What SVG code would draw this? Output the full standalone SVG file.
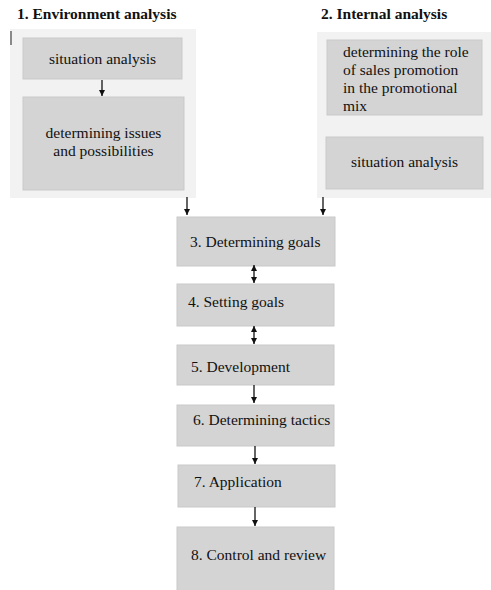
<svg xmlns="http://www.w3.org/2000/svg" width="491" height="590" viewBox="0 0 491 590">
<style>
.panel{fill:#f2f2f2;}
.box{fill:#d4d4d4;stroke:#c9c9c9;stroke-width:1;}
.t{font-family:"Liberation Serif","Times New Roman",serif;font-size:15.5px;fill:#111;}
.h{font-family:"Liberation Serif","Times New Roman",serif;font-size:15.5px;font-weight:bold;fill:#111;}
.c{stroke:#111;stroke-width:1.3;fill:none;}
</style>
<defs>
<marker id="ah" viewBox="0 0 10 10" refX="10" refY="5" markerWidth="6" markerHeight="6" markerUnits="userSpaceOnUse" orient="auto">
<path d="M0,0 L10,5 L0,10 z" fill="#111"/>
</marker>
<marker id="as" viewBox="0 0 10 10" refX="0" refY="5" markerWidth="6" markerHeight="6" markerUnits="userSpaceOnUse" orient="auto">
<path d="M10,0 L0,5 L10,10 z" fill="#111"/>
</marker>
</defs>
<rect width="491" height="590" fill="#ffffff"/>
<g id="env">
<text class="h" x="17" y="19">1. Environment analysis</text>
<rect class="panel" x="10" y="29" width="186" height="169"/>
<line x1="11" y1="31" x2="11" y2="45" stroke="#666" stroke-width="1.5"/>
</g>
<g id="env-situation">
<rect class="box" x="23" y="38" width="159" height="41"/>
<text class="t" x="102.5" y="64" text-anchor="middle">situation analysis</text>
</g>
<g id="env-issues">
<rect class="box" x="23" y="97" width="161" height="93"/>
<text class="t" x="103.5" y="138" text-anchor="middle">determining issues</text>
<text class="t" x="103.5" y="156" text-anchor="middle">and possibilities</text>
</g>
<g id="int">
<text class="h" x="321" y="19">2. Internal analysis</text>
<rect class="panel" x="317" y="32" width="174" height="166"/>
</g>
<g id="int-role">
<rect class="box" x="327" y="40" width="155" height="75"/>
<text class="t" x="343" y="57">determining the role</text>
<text class="t" x="343" y="75">of sales promotion</text>
<text class="t" x="343" y="93">in the promotional</text>
<text class="t" x="343" y="111">mix</text>
</g>
<g id="int-situation">
<rect class="box" x="326" y="137" width="157" height="52"/>
<text class="t" x="404.5" y="167" text-anchor="middle">situation analysis</text>
</g>
<g id="n3">
<rect class="box" x="177" y="217" width="158" height="49"/>
<text class="t" x="190" y="247">3. Determining goals</text>
</g>
<g id="n4">
<rect class="box" x="177" y="284" width="157" height="42"/>
<text class="t" x="188" y="307">4. Setting goals</text>
</g>
<g id="n5">
<rect class="box" x="177" y="345" width="157" height="40"/>
<text class="t" x="191" y="372">5. Development</text>
</g>
<g id="n6">
<rect class="box" x="177" y="405" width="157" height="41"/>
<text class="t" x="193" y="425">6. Determining tactics</text>
</g>
<g id="n7">
<rect class="box" x="178" y="465" width="157" height="42"/>
<text class="t" x="194" y="487">7. Application</text>
</g>
<g id="n8">
<rect class="box" x="177" y="527" width="157" height="66"/>
<text class="t" x="191" y="560">8. Control and review</text>
</g>
<g id="connectors">
<line class="c" x1="102" y1="80" x2="102" y2="96" marker-end="url(#ah)"/>
<line class="c" x1="187" y1="197" x2="187" y2="215" marker-end="url(#ah)"/>
<line class="c" x1="323" y1="197" x2="323" y2="215" marker-end="url(#ah)"/>
<line class="c" x1="254" y1="265" x2="254" y2="283" marker-start="url(#as)" marker-end="url(#ah)"/>
<line class="c" x1="254" y1="326" x2="254" y2="344" marker-start="url(#as)" marker-end="url(#ah)"/>
<line class="c" x1="254" y1="385" x2="254" y2="403" marker-end="url(#ah)"/>
<line class="c" x1="255" y1="446" x2="255" y2="464" marker-end="url(#ah)"/>
<line class="c" x1="255" y1="507" x2="255" y2="526" marker-end="url(#ah)"/>
</g>
</svg>
